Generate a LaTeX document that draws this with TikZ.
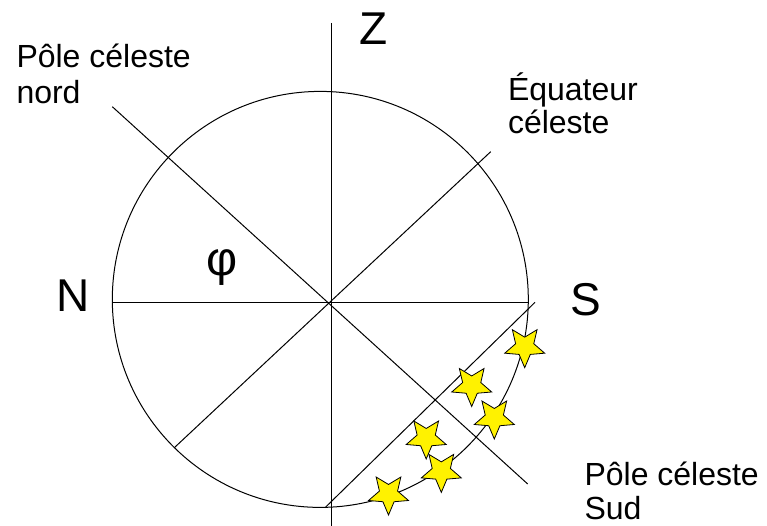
\documentclass[tikz,border=0pt]{standalone}
\usepackage{fontspec}
\setmainfont{Liberation Sans}
\usetikzlibrary{shapes.geometric}
\begin{document}
\begin{tikzpicture}[x=1pt,y=-1pt, line width=1pt,
  lbl/.style={inner sep=0pt, align=left, anchor=base west},
  big/.style={inner sep=0pt, font=\fontsize{46}{50}\selectfont, anchor=base},
  etoile/.style={star, star points=5, star point ratio=2.2, shape border rotate=180,
    minimum size=42pt, inner sep=0pt, draw=black, line width=0.8pt, fill=yellow}]
\useasboundingbox (0,0) rectangle (767,526);
% geometry
\coordinate (c) at (320.3,299.4);
\coordinate (zt) at (331.5,23);
\coordinate (zb) at (331.5,526);
\coordinate (hl) at (112.3,302.7);
\coordinate (hr) at (528.3,302.7);
\coordinate (pn) at (112.3,106.7);
\coordinate (ps) at (527.7,484);
\coordinate (eq1) at (490.7,151.7);
\coordinate (eq2) at (174,448);
\coordinate (pa1) at (535,302.3);
\coordinate (pa2) at (325,507.7);
\draw (c) circle [radius=208];
\draw (zt) -- (zb);
\draw (hl) -- (hr);
\draw (pn) -- (ps);
\draw (eq1) -- (eq2);
\draw (pa1) -- (pa2);
% labels
\node[big] (Z) at (373.3,45) {Z};
\node[big] (N) at (72.8,311) {N};
\node[big] (S) at (585.5,315) {S};
\node[inner sep=0pt, font=\fontsize{48}{52}\selectfont, anchor=base] (phi) at (222.5,276) {φ};
\node[lbl, font=\fontsize{32}{36.7}\selectfont] (pcn) at (16,104) {Pôle céleste\\nord};
\node[lbl, font=\fontsize{32}{33.3}\selectfont] (eqc) at (507.5,134) {Équateur\\céleste};
\node[lbl, font=\fontsize{32}{34.3}\selectfont] (pcs) at (584,519.3) {Pôle céleste\\Sud};
% stars
\node[etoile] (s1) at (524.7,346.7) {};
\node[etoile] (s2) at (471.7,385.5) {};
\node[etoile] (s3) at (494.3,418) {};
\node[etoile] (s4) at (426.2,438) {};
\node[etoile] (s5) at (441.3,471.4) {};
\node[etoile] (s6) at (388.5,494) {};
\end{tikzpicture}
\end{document}
